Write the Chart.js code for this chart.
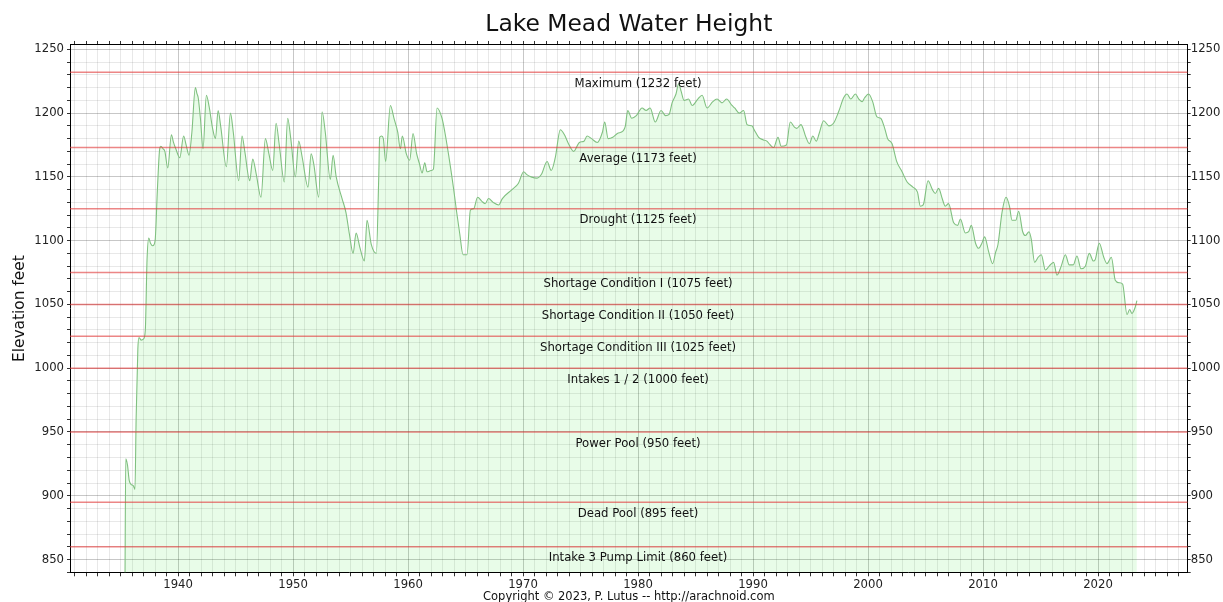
<!DOCTYPE html>
<html>
<head>
<meta charset="utf-8">
<title>Lake Mead Water Height</title>
<script src="https://cdn.jsdelivr.net/npm/chart.js@4/dist/chart.umd.min.js"></script>
<style>
  html, body { margin: 0; padding: 0; background: #fff; }
  #wrap { width: 1223px; height: 602px; }
</style>
</head>
<body>
<div id="wrap"><canvas id="chart" width="1223" height="602"></canvas></div>
<script>
// ---- DATA ----
var years = [
  1935.38, 1935.45, 1935.6, 1935.75, 1935.9, 1936.1, 1936.25, 1936.35, 1936.5, 1936.6,
  1936.8, 1937.0, 1937.15, 1937.3, 1937.45, 1937.6, 1937.8, 1938.0, 1938.2, 1938.4,
  1938.5, 1938.7, 1938.85, 1939.1, 1939.42, 1939.6, 1939.8, 1940.15, 1940.48, 1940.7,
  1940.95, 1941.2, 1941.5, 1941.65, 1941.75, 1941.95, 1942.17, 1942.46, 1942.7, 1943.0,
  1943.25, 1943.48, 1943.7, 1944.2, 1944.55, 1944.8, 1945.27, 1945.56, 1945.8, 1946.23,
  1946.49, 1946.8, 1947.21, 1947.59, 1947.9, 1948.23, 1948.52, 1948.8, 1949.24, 1949.53,
  1949.8, 1950.2, 1950.49, 1950.8, 1951.3, 1951.57, 1951.8, 1952.23, 1952.52, 1952.8,
  1953.24, 1953.48, 1953.75, 1954.26, 1954.6, 1954.9, 1955.22, 1955.48, 1955.8, 1956.2,
  1956.43, 1956.8, 1957.24, 1957.45, 1957.53, 1957.7, 1957.85, 1958.05, 1958.46, 1958.8,
  1959.1, 1959.33, 1959.5, 1959.85, 1960.14, 1960.43, 1960.75, 1961.0, 1961.22, 1961.45,
  1961.65, 1962.0, 1962.2, 1962.52, 1962.95, 1963.2, 1963.53, 1963.97, 1964.2, 1964.5,
  1964.78, 1965.13, 1965.42, 1965.7, 1966.05, 1966.4, 1966.7, 1967.0, 1967.4, 1967.88,
  1968.2, 1969.04, 1969.6, 1970.05, 1970.3, 1970.7, 1971.22, 1971.6, 1972.09, 1972.45,
  1972.8, 1973.24, 1973.6, 1973.9, 1974.4, 1974.9, 1975.3, 1975.57, 1975.95, 1976.45,
  1976.9, 1977.1, 1977.4, 1977.8, 1978.2, 1978.7, 1978.9, 1979.1, 1979.45, 1979.85,
  1980.35, 1980.7, 1981.05, 1981.5, 1982.0, 1982.4, 1982.7, 1982.96, 1983.3, 1983.53,
  1983.75, 1984.0, 1984.4, 1984.7, 1985.2, 1985.57, 1986.0, 1986.5, 1986.87, 1987.3,
  1987.7, 1988.17, 1988.4, 1988.8, 1989.18, 1989.48, 1989.9, 1990.1, 1990.49, 1990.9,
  1991.2, 1991.5, 1991.79, 1992.17, 1992.45, 1992.9, 1993.24, 1993.6, 1993.8, 1994.17,
  1994.6, 1994.9, 1995.2, 1995.5, 1995.75, 1996.14, 1996.6, 1997.0, 1997.44, 1997.88,
  1998.17, 1998.5, 1998.9, 1999.2, 1999.5, 1999.7, 2000.05, 2000.4, 2000.78, 2001.1,
  2001.45, 2001.7, 2002.09, 2002.5, 2002.96, 2003.4, 2003.9, 2004.3, 2004.55, 2004.8,
  2005.22, 2005.6, 2005.85, 2006.14, 2006.45, 2006.72, 2007.0, 2007.45, 2007.8, 2008.03,
  2008.46, 2008.75, 2008.98, 2009.35, 2009.62, 2009.9, 2010.14, 2010.5, 2010.84, 2011.1,
  2011.3, 2011.65, 2012.0, 2012.3, 2012.52, 2012.85, 2013.1, 2013.45, 2013.68, 2014.0,
  2014.2, 2014.49, 2014.8, 2015.07, 2015.42, 2015.75, 2016.14, 2016.43, 2016.8, 2017.16,
  2017.5, 2017.85, 2018.17, 2018.52, 2018.9, 2019.24, 2019.6, 2019.75, 2020.11, 2020.5,
  2020.78, 2021.16, 2021.5, 2021.85, 2022.14, 2022.52, 2022.75, 2022.95, 2023.24, 2023.38
];
var heights = [
  830, 929, 924, 912, 909, 908, 905, 960, 1015, 1024,
  1022, 1023, 1030, 1085, 1102, 1098, 1096, 1100, 1140, 1172,
  1174, 1172, 1170, 1157, 1183, 1177, 1172, 1165, 1182, 1175,
  1167, 1185, 1220, 1215, 1212, 1195, 1172, 1214, 1205, 1188,
  1180, 1202, 1190, 1158, 1200, 1185, 1147, 1182, 1170, 1147,
  1164, 1152, 1134, 1180, 1168, 1155, 1192, 1175, 1146, 1196,
  1180, 1150, 1178, 1165, 1142, 1168, 1160, 1134, 1201, 1185,
  1148, 1167, 1150, 1133, 1122, 1105, 1090, 1106, 1095, 1084,
  1116, 1097, 1090, 1150, 1181, 1182, 1180, 1162, 1206, 1195,
  1185, 1172, 1182, 1168, 1163, 1184, 1168, 1160, 1153, 1161,
  1154, 1155, 1156, 1204, 1196, 1185, 1167, 1140, 1124, 1105,
  1089, 1089, 1124, 1125, 1134, 1131, 1129, 1133, 1130, 1128,
  1133, 1140, 1145, 1154, 1152, 1150, 1149, 1152, 1162, 1155,
  1165, 1187, 1183, 1177, 1170, 1177, 1178, 1182, 1180, 1177,
  1185, 1193, 1180, 1181, 1184, 1186, 1190, 1202, 1196, 1198,
  1204, 1202, 1204, 1193, 1202, 1198, 1199, 1208, 1215, 1223,
  1217, 1210, 1211, 1206, 1211, 1214, 1204, 1209, 1211, 1208,
  1211, 1206, 1204, 1200, 1202, 1191, 1190, 1187, 1181, 1179,
  1178, 1175, 1173, 1181, 1174, 1175, 1193, 1189, 1188, 1191,
  1181, 1176, 1182, 1178, 1184, 1194, 1190, 1192, 1201, 1212,
  1215, 1211, 1215, 1211, 1209, 1212, 1215, 1209, 1197, 1196,
  1188, 1180, 1176, 1162, 1154, 1146, 1142, 1138, 1127, 1128,
  1147, 1140, 1137, 1141, 1133, 1127, 1129, 1114, 1112, 1117,
  1106, 1107, 1112, 1098, 1094, 1098, 1103, 1091, 1082, 1091,
  1097, 1122, 1134, 1127, 1116, 1116, 1123, 1107, 1104, 1107,
  1101, 1083, 1087, 1089, 1077, 1080, 1083, 1073, 1080, 1089,
  1081, 1081, 1088, 1078, 1080, 1090, 1084, 1085, 1098, 1087,
  1082, 1087, 1069, 1067, 1066, 1042, 1046, 1043, 1048, 1053
];

// niveis de referencia (linhas vermelhas)
var limitValues = [1232, 1173, 1125, 1075, 1050, 1025, 1000, 950, 895, 860];
var limitLabels = [
  'Maximum (1232 feet)', 'Average (1173 feet)', 'Drought (1125 feet)',
  'Shortage Condition I (1075 feet)', 'Shortage Condition II (1050 feet)',
  'Shortage Condition III (1025 feet)', 'Intakes 1 / 2 (1000 feet)',
  'Power Pool (950 feet)', 'Dead Pool (895 feet)', 'Intake 3 Pump Limit (860 feet)'
];

var xMin = 1930.6, xMax = 2027.8;
var yMin = 840, yMax = 1253.4;
var labelYear = 1980;
var copyright = 'Copyright \u00a9 2023, P. Lutus -- http://arachnoid.com';

var FONT = 'DejaVu Sans';

// ---- DATASETS ----
var waterPoints = years.map(function(y, i) { return { x: y, y: heights[i] }; });

var datasets = [{
  label: 'Elevation',
  data: waterPoints,
  borderColor: '#80c080',
  borderWidth: 1.1,
  backgroundColor: 'rgba(0,220,0,0.09)',
  fill: 'start',
  pointRadius: 0,
  cubicInterpolationMode: 'monotone',
  order: 1
}];

limitValues.forEach(function(v) {
  datasets.push({
    data: [{ x: xMin, y: v }, { x: xMax, y: v }],
    borderColor: 'rgba(225,60,60,0.62)',
    borderWidth: 1.5,
    pointRadius: 0,
    fill: false,
    order: 0
  });
});

// ---- GRID HELPERS ----
function xGrid(ctx) {
  return ctx.tick && ctx.tick.value % 10 === 0 ? 'rgba(0,0,0,0.22)' : 'rgba(0,0,0,0.09)';
}
function yGrid(ctx) {
  return ctx.tick && ctx.tick.value % 50 === 0 ? 'rgba(0,0,0,0.22)' : 'rgba(0,0,0,0.09)';
}

// ---- PLUGIN: textos das linhas e copyright ----
var textPlugin = {
  id: 'limitText',
  afterDatasetsDraw: function(chart) {
    var c = chart.ctx, xs = chart.scales.x, ys = chart.scales.y;
    c.save();
    c.font = '11.7px "' + FONT + '"';
    c.fillStyle = '#111';
    c.textAlign = 'center';
    c.textBaseline = 'middle';
    var lx = xs.getPixelForValue(labelYear);
    limitValues.forEach(function(v, i) {
      c.fillText(limitLabels[i], lx, ys.getPixelForValue(v) + 11.5);
    });
    c.restore();
  },
  afterDraw: function(chart) {
    var c = chart.ctx, a = chart.chartArea;
    c.save();
    c.font = '11.5px "' + FONT + '"';
    c.fillStyle = '#111';
    c.textAlign = 'center';
    c.textBaseline = 'middle';
    c.fillText(copyright, (a.left + a.right) / 2, 597);
    c.restore();
  }
};

var tickFont = { family: FONT, size: 11.7 };

new Chart(document.getElementById('chart'), {
  type: 'line',
  data: { datasets: datasets },
  options: {
    responsive: false,
    animation: false,
    layout: { padding: 0 },
    plugins: {
      legend: { display: false },
      tooltip: { enabled: false },
      title: {
        display: true,
        text: 'Lake Mead Water Height',
        fullSize: false,
        color: '#111',
        font: { family: FONT, size: 23.4, weight: 'normal' },
        padding: { top: 10.5, bottom: 2.4 }
      }
    },
    scales: {
      x: {
        type: 'linear', position: 'bottom', min: xMin, max: xMax,
        ticks: {
          stepSize: 1, autoSkip: false, includeBounds: false, maxRotation: 0,
          padding: 2, color: '#222', font: tickFont,
          callback: function(v) { return v % 10 === 0 ? String(v) : ''; }
        },
        grid: { color: xGrid, tickColor: '#333', tickLength: 4 },
        border: { color: '#000', width: 1 },
        afterFit: function(s) { s.height = 29.7; }
      },
      x2: {
        type: 'linear', position: 'top', min: xMin, max: xMax,
        ticks: { stepSize: 1, autoSkip: false, includeBounds: false, display: false },
        grid: { drawOnChartArea: false, tickColor: '#333', tickLength: 4 },
        border: { color: '#000', width: 1 },
        afterFit: function(s) { s.height = 4; }
      },
      y: {
        type: 'linear', position: 'left', min: yMin, max: yMax,
        ticks: {
          stepSize: 10, autoSkip: false, includeBounds: false,
          padding: 3, color: '#222', font: tickFont,
          callback: function(v) { return v % 50 === 0 ? String(v) : ''; }
        },
        grid: { color: yGrid, tickColor: '#333', tickLength: 3 },
        border: { color: '#000', width: 1 },
        title: {
          display: true, text: 'Elevation feet', color: '#111',
          font: { family: FONT, size: 15.4 }, padding: { top: 10.8, bottom: 0 }
        },
        afterFit: function(s) { s.width = 70; }
      },
      y2: {
        type: 'linear', position: 'right', min: yMin, max: yMax,
        ticks: {
          stepSize: 10, autoSkip: false, includeBounds: false,
          padding: 0, color: '#222', font: tickFont,
          callback: function(v) { return v % 50 === 0 ? String(v) : ''; }
        },
        grid: { drawOnChartArea: false, tickColor: '#333', tickLength: 3 },
        border: { color: '#000', width: 1 },
        afterFit: function(s) { s.width = 35.3; }
      }
    }
  },
  plugins: [textPlugin]
});
</script>
</body>
</html>
